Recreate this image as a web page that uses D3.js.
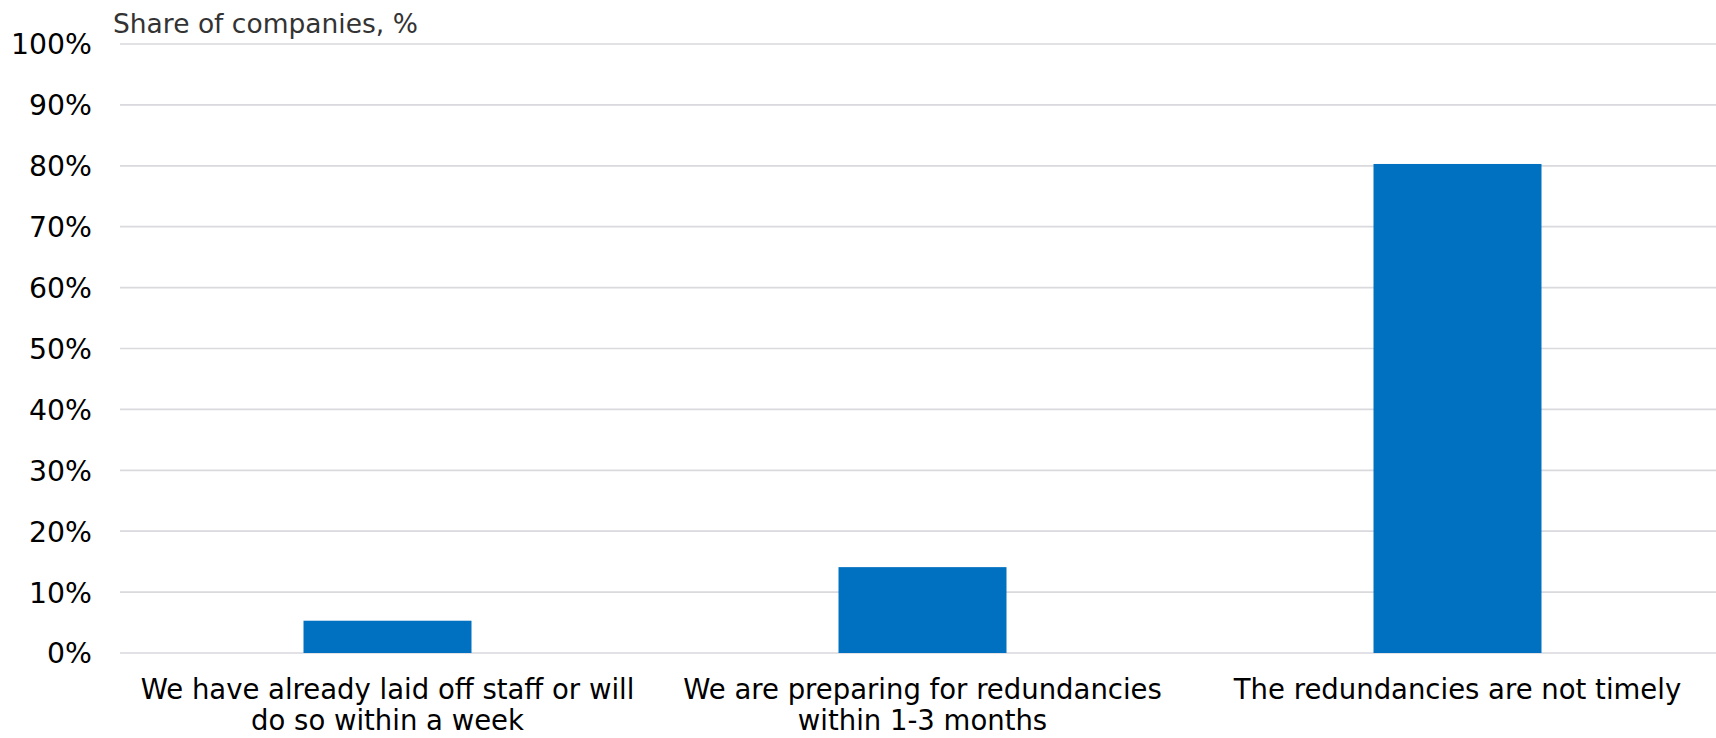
<!DOCTYPE html>
<html lang="en">
<head>
<meta charset="utf-8">
<style>
  body { margin: 0; background: #fff; }
  svg { display: block; font-family: Verdana, "DejaVu Sans", sans-serif; }
</style>
</head>
<body>
<svg width="1716" height="738"></svg>
<script src="https://cdnjs.cloudflare.com/ajax/libs/d3/7.8.5/d3.min.js"></script>
<script>
// categories (each one split into its two wrapped lines) and the share of companies
var categories = [
  ['We have already laid off staff or will', 'do so within a week'],
  ['We are preparing for redundancies', 'within 1-3 months'],
  ['The redundancies are not timely']
]
var shares = [5.3, 14.1, 80.3]
var yTicks = [0, 10, 20, 30, 40, 50, 60, 70, 80, 90, 100]
var axisTitle = 'Share of companies, %'

var svg = d3.select('svg')
var plot = {left: 120, right: 1725, top: 44, bottom: 653}

var keys = categories.map(function (d, i) { return i })

var x = d3.scaleBand()
  .domain(keys)
  .range([plot.left, plot.right])
  .paddingInner(0.686)
  .paddingOuter(0.343)

var y = d3.scaleLinear()
  .domain([0, 100])
  .range([plot.bottom, plot.top])

// gridlines
svg.append('g')
  .selectAll('line')
  .data(yTicks)
  .enter().append('line')
    .attr('x1', plot.left)
    .attr('x2', plot.right)
    .attr('y1', function (d) { return y(d) })
    .attr('y2', function (d) { return y(d) })
    .attr('stroke', '#d9d9de')
    .attr('stroke-width', 1.7)

// y tick labels
svg.append('g')
  .attr('font-size', 28.3)
  .attr('text-anchor', 'end')
  .attr('fill', '#000')
  .selectAll('text')
  .data(yTicks)
  .enter().append('text')
    .attr('x', 92)
    .attr('y', function (d) { return y(d) })
    .attr('dy', '0.37em')
    .text(function (d) { return d + '%' })

// bars
svg.append('g')
  .selectAll('rect')
  .data(shares)
  .enter().append('rect')
    .attr('x', function (d, i) { return x(i) })
    .attr('width', x.bandwidth())
    .attr('y', function (d) { return y(d) })
    .attr('height', function (d) { return y(0) - y(d) })
    .attr('fill', '#0070c0')

// category labels
var labels = svg.append('g')
  .attr('font-size', 27.5)
  .attr('text-anchor', 'middle')
  .attr('fill', '#000')
  .selectAll('text')
  .data(categories)
  .enter().append('text')
    .attr('x', function (d, i) { return x(i) + x.bandwidth() / 2 })
    .attr('y', 699)

labels.selectAll('tspan')
  .data(function (d) { return d })
  .enter().append('tspan')
    .attr('x', function () { return d3.select(this.parentNode).attr('x') })
    .attr('dy', function (d, i) { return i === 0 ? 0 : 31 })
    .text(function (d) { return d })

// axis title
svg.append('text')
  .attr('x', 113)
  .attr('y', 33)
  .attr('font-size', 26.5)
  .attr('fill', '#333')
  .text(axisTitle)
</script>
</body>
</html>
